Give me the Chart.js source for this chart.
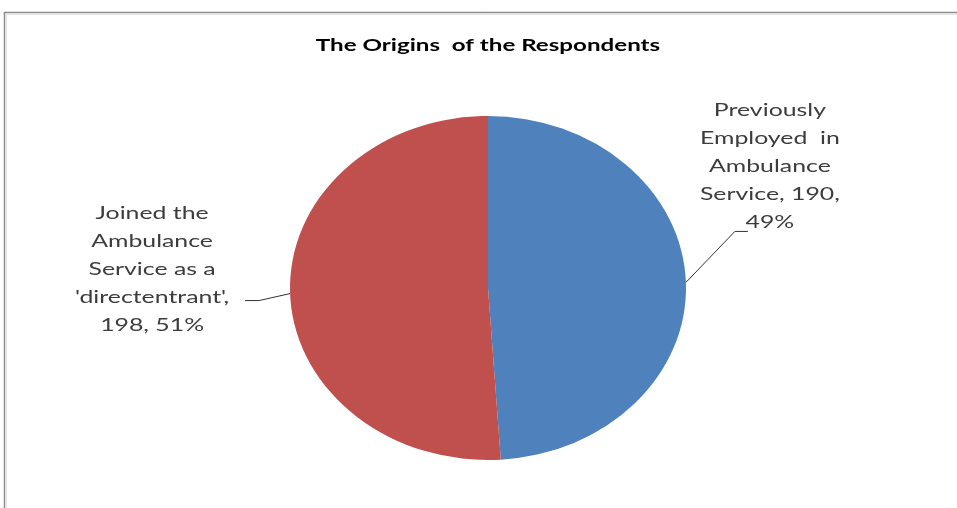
<!DOCTYPE html>
<html>
<head>
<meta charset="utf-8">
<script src="https://cdn.jsdelivr.net/npm/chart.js@4.4.1/dist/chart.umd.min.js"></script>
<style>
  html, body { margin: 0; padding: 0; background: #fff; }
  #wrap { width: 957px; height: 508px; }
</style>
</head>
<body>
<div id="wrap"><canvas id="pie" width="957" height="508"></canvas></div>
<script>
// data
const labels = [
    ['Previously', 'Employed  in', 'Ambulance', 'Service, 190,', '49%'],
    ['Joined the', 'Ambulance', 'Service as a', "'directentrant',", '198, 51%']
];
const counts = [190, 198];
const sliceColors = ['#4F81BD', '#C0504D'];
const chartTitle = 'The Origins  of the Respondents';

// the original is a bit stretched sideways, pie and text alike
const pieStretch = 198 / 172;
const textStretch = 1.46;
const titleStretch = 1.42;
const textColor = '#3c3c3c';

// where each label sits, relative to the edge point of its slice
const labelLayout = [
    {elbow: [49, -51], tail: 13, tx: 84, ty: -172},
    {elbow: [-31, 7], tail: -14, tx: -138, ty: -80}
];

const frame = {
    id: 'frame',
    beforeDraw(chart){
        const ctx = chart.ctx;
        ctx.save();
        ctx.strokeStyle = '#8c8c8c';
        ctx.lineWidth = 1.5;
        ctx.beginPath();
        ctx.moveTo(4.5, 520);
        ctx.lineTo(4.5, 12.5);
        ctx.lineTo(970, 12.5);
        ctx.stroke();
        ctx.strokeStyle = '#e4e4e4';
        ctx.lineWidth = 1;
        ctx.beginPath();
        ctx.moveTo(6.5, 520);
        ctx.lineTo(6.5, 14.5);
        ctx.lineTo(970, 14.5);
        ctx.stroke();
        ctx.restore();
    }
};

const stretch = {
    id: 'stretch',
    beforeDatasetsDraw(chart){
        const arc = chart.getDatasetMeta(0).data[0];
        const ctx = chart.ctx;
        ctx.save();
        ctx.translate(arc.x, arc.y);
        ctx.scale(pieStretch, 1);
        ctx.translate(-arc.x, -arc.y);
    },
    afterDatasetsDraw(chart){
        chart.ctx.restore();
    }
};

const sliceLabels = {
    id: 'sliceLabels',
    afterDraw(chart){
        const ctx = chart.ctx;
        const meta = chart.getDatasetMeta(0);
        ctx.save();
        //title
        ctx.fillStyle = '#000';
        ctx.font = 'bold 17px Lato';
        ctx.textAlign = 'center';
        ctx.textBaseline = 'middle';
        ctx.save();
        ctx.translate(meta.data[0].x, 46);
        ctx.scale(titleStretch, 1);
        ctx.fillText(chartTitle, 0, 0);
        ctx.restore();
        meta.data.forEach((arc, i) => {
            const mid = (arc.startAngle + arc.endAngle) / 2;
            const px = arc.x + Math.cos(mid) * arc.outerRadius * pieStretch;
            const py = arc.y + Math.sin(mid) * arc.outerRadius;
            const lay = labelLayout[i];
            const ex = px + lay.elbow[0], ey = py + lay.elbow[1];
            //leader line
            ctx.strokeStyle = '#333';
            ctx.lineWidth = 1;
            ctx.beginPath();
            ctx.moveTo(px, py);
            ctx.lineTo(ex, ey);
            ctx.lineTo(ex + lay.tail, ey);
            ctx.stroke();
            //text
            ctx.fillStyle = textColor;
            ctx.font = '17px Lato';
            labels[i].forEach((line, j) => {
                ctx.save();
                ctx.translate(px + lay.tx, py + lay.ty + j * 28);
                ctx.scale(textStretch, 1);
                ctx.fillText(line, 0, 0);
                ctx.restore();
            });
        });
        ctx.restore();
    }
};

const chart = new Chart(document.getElementById('pie'), {
    type: 'pie',
    data: {
        labels: labels.map(l => l.join(' ')),
        datasets: [{
            data: counts,
            backgroundColor: sliceColors,
            borderWidth: 0
        }]
    },
    options: {
        responsive: false,
        animation: false,
        layout: {padding: {left: 19, right: 0, top: 116, bottom: 48}},
        plugins: {
            legend: {display: false},
            tooltip: {enabled: false},
            title: {display: false}
        }
    },
    plugins: [frame, stretch, sliceLabels]
});
</script>
</body>
</html>
